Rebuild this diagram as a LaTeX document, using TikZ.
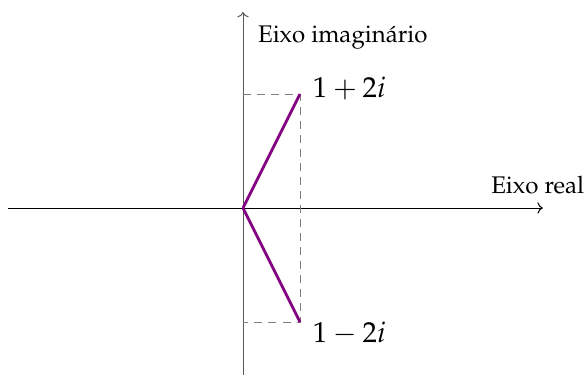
\documentclass[tikz,border=0pt]{standalone}
\usepackage[T1]{fontenc}
\usepackage{mathpazo}
\usetikzlibrary{arrows.meta,positioning}

\begin{document}
\begin{tikzpicture}[
          >=To, font=\large,
          axis/.style={->, line width=0.5pt},
          vec/.style={violet, line width=1.4pt},
          guide/.style={gray, dash pattern=on 4pt off 3pt, line width=0.5pt},
          pt/.style={font=\Large, inner sep=2pt}
      ]
      \useasboundingbox (-4.263,-3.018) rectangle (5.982,3.649);
      \coordinate (o)  at (0,0);
      \coordinate (xl) at (-4.12,0);
      \coordinate (xr) at (5.26,0);
      \coordinate (yb) at (0,-2.93);
      \coordinate (yt) at (0,3.44);
      \coordinate (p)  at (1,2);
      \coordinate (q)  at (1,-2);
      \coordinate (py) at (0,2);
      \coordinate (qy) at (0,-2);
      \draw[axis] (xl) -- (xr);
      \draw[axis, black!65] (yb) -- (yt);
      \node[anchor=base] (re) at (5.17,0.26) {Eixo real};
      \node[anchor=base west] (im) at (0.14,2.91) {Eixo imagin\'ario};
      \draw[guide] (py) -- (p) -- (q) -- (qy);
      \draw[vec] (o) -- (p);
      \draw[vec] (o) -- (q);
      \node[pt, anchor=west] (z)  at (1.15,2.1)  {$1+2i$};
      \node[pt, anchor=west] (zc) at (1.15,-2.2) {$1-2i$};
      \end{tikzpicture}
\end{document}
